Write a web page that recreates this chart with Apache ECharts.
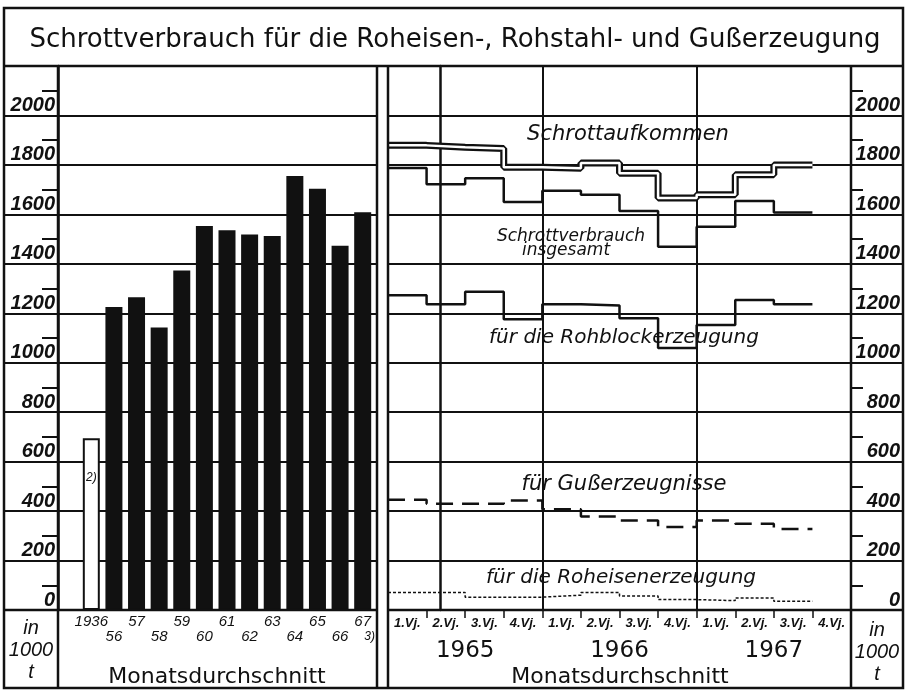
<!DOCTYPE html>
<html>
<head>
<meta charset="utf-8">
<script src="https://cdn.jsdelivr.net/npm/echarts@6/dist/echarts.min.js"></script>
<style>
html, body { margin: 0; padding: 0; background: #fff; }
#chart { width: 906px; height: 691px; }
</style>
</head>
<body>
<div id="chart"></div>
<script>
// Monatsdurchschnitt, in 1000 t
var years = ['1936', '56', '57', '58', '59', '60', '61', '62', '63', '64', '65', '66', '67'];
var verbrauchJahr = [695, 1225, 1265, 1142, 1373, 1553, 1536, 1519, 1512, 1755, 1704, 1473, 1609];

var quarters = ['1.Vj.', '2.Vj.', '3.Vj.', '4.Vj.', '1.Vj.', '2.Vj.', '3.Vj.', '4.Vj.', '1.Vj.', '2.Vj.', '3.Vj.', '4.Vj.'];
var quarterYears = ['1965', '1966', '1967'];
// 1965 1.Vj. .. 1967 3.Vj.
var aufkommen = [1879, 1871, 1866, 1791, 1786, 1808, 1766, 1666, 1679, 1760, 1800];
var verbrauchGesamt = [1787, 1722, 1746, 1650, 1695, 1679, 1614, 1469, 1550, 1654, 1608];
var rohblock = [1273, 1236, 1287, 1176, 1236, 1231, 1180, 1060, 1153, 1254, 1236];
var guss = [446, 430, 430, 443, 407, 378, 362, 336, 362, 349, 328];
var roheisen = [71, 71, 52, 52, 60, 71, 57, 42, 38, 49, 35];

var yTicks = [0, 200, 400, 600, 800, 1000, 1200, 1400, 1600, 1800, 2000];

var black = '#111';
var numFont = 'Liberation Sans';
var textFont = 'DejaVu Sans';

// each quarter value is held over its whole quarter
function stepData(vals) {
    var d = vals.map(function (v, i) { return [i, v]; });
    d.push([vals.length, vals[vals.length - 1]]);
    return d;
}

var chart = echarts.init(document.getElementById('chart'));

var yLabel = {
    customValues: yTicks,
    fontFamily: numFont, fontStyle: 'italic', fontWeight: 'bold', fontSize: 20, color: black,
    verticalAlign: 'bottom', lineHeight: 20,
    formatter: function (v) { return String(v); }
};
// the small scale marks sit just above each label
var tickMarks = yTicks.map(function (v) { return v + 100; });

function tickAxis(grid, pos, off, len) {
    return {
        gridIndex: grid, type: 'value', min: 0, max: 2200, position: pos, offset: off,
        axisLine: { show: false }, axisLabel: { show: false }, splitLine: { show: false },
        axisTick: { show: true, customValues: tickMarks, length: len, lineStyle: { color: black, width: 2 } }
    };
}
function hline(x1, y1, x2, y2, w) {
    return { type: 'line', z: 50, shape: { x1: x1, y1: y1, x2: x2, y2: y2 }, style: { stroke: black, lineWidth: w || 2.5 } };
}
function label(txt, x, y, size, italic, family) {
    return {
        type: 'text', z: 60, x: x, y: y,
        style: {
            text: txt, fill: black, textAlign: 'center', textVerticalAlign: 'middle',
            font: (italic ? 'italic ' : '') + size + 'px "' + (family || textFont) + '"',
            lineHeight: size + 2
        }
    };
}

var option = {
    animation: false,
    backgroundColor: '#fff',
    grid: [
        { left: 4, right: 529, top: 66, bottom: 81, outerBoundsMode: 'none' },
        { left: 80, right: 532, top: 66, bottom: 81, outerBoundsMode: 'none' },
        { left: 388, right: 3, top: 66, bottom: 81, outerBoundsMode: 'none' },
        { left: 388, right: 55, top: 66, bottom: 81, outerBoundsMode: 'none' }
    ],
    xAxis: [
        { gridIndex: 0, type: 'value', min: 0, max: 1, show: false },
        {
            gridIndex: 1, type: 'category', data: years,
            axisLine: { show: false }, axisTick: { show: false },
            axisLabel: {
                interval: 0, margin: 4, lineHeight: 15, color: black,
                fontFamily: numFont, fontStyle: 'italic', fontSize: 15,
                formatter: function (v, i) {
                    if (i === years.length - 1) return v + '\n{f|3)}';
                    return i % 2 === 0 ? v + '\n ' : ' \n' + v;
                },
                rich: { f: { padding: [0, 0, 0, 14], fontSize: 12, fontFamily: numFont, fontStyle: 'italic', color: black } }
            }
        },
        { gridIndex: 2, type: 'value', min: 0, max: 1, show: false },
        {
            gridIndex: 3, type: 'value', min: 0, max: 12, interval: 4,
            axisLine: { show: false }, axisTick: { show: false }, axisLabel: { show: false },
            splitLine: { show: true, lineStyle: { color: black, width: 2 } }
        },
        {
            gridIndex: 3, type: 'category', data: quarters, position: 'bottom',
            axisLine: { show: false },
            axisTick: { show: true, length: 8, lineStyle: { color: black, width: 1.5 } },
            axisLabel: {
                interval: 0, margin: 7, color: black,
                fontFamily: numFont, fontStyle: 'italic', fontWeight: 'bold', fontSize: 13
            }
        },
        {
            gridIndex: 3, type: 'category', data: quarterYears, position: 'bottom', offset: 28,
            axisLine: { show: false }, axisTick: { show: false },
            axisLabel: { interval: 0, margin: 2, color: black, fontFamily: textFont, fontSize: 23 }
        }
    ],
    yAxis: [
        {
            gridIndex: 0, type: 'value', min: 0, max: 2200, interval: 200, position: 'left', offset: -54,
            axisLine: { show: true, lineStyle: { color: black, width: 2.5 } },
            axisTick: { show: false },
            axisLabel: Object.assign({ margin: 3 }, yLabel),
            splitLine: { show: true, lineStyle: { color: black, width: 2 } }
        },
        { gridIndex: 1, type: 'value', min: 0, max: 2200, show: false },
        {
            gridIndex: 2, type: 'value', min: 0, max: 2200, interval: 200, position: 'right', offset: -52,
            axisLine: { show: true, lineStyle: { color: black, width: 2.5 } },
            axisTick: { show: false },
            axisLabel: Object.assign({ margin: 49, align: 'right' }, yLabel),
            splitLine: { show: true, lineStyle: { color: black, width: 2 } }
        },
        { gridIndex: 3, type: 'value', min: 0, max: 2200, show: false },
        tickAxis(0, 'left', -54, 16),
        tickAxis(2, 'right', -52, 12)
    ],
    series: [
        {
            type: 'bar', xAxisIndex: 1, yAxisIndex: 1, barWidth: 17,
            itemStyle: { color: black },
            data: verbrauchJahr.map(function (v, i) {
                if (i > 0) return v;
                return {
                    value: v,
                    itemStyle: { color: '#fff', borderColor: black, borderWidth: 2 },
                    label: {
                        show: true, position: 'insideTop', distance: 34, formatter: '2)',
                        color: black, fontFamily: numFont, fontStyle: 'italic', fontSize: 12
                    }
                };
            })
        },
        {
            name: 'Schrottaufkommen', type: 'line', step: 'end', xAxisIndex: 3, yAxisIndex: 3,
            showSymbol: false, data: stepData(aufkommen), z: 3,
            lineStyle: { color: black, width: 7 }
        },
        {
            name: 'Schrottaufkommen', type: 'line', step: 'end', xAxisIndex: 3, yAxisIndex: 3,
            showSymbol: false, data: stepData(aufkommen), z: 4,
            lineStyle: { color: '#fff', width: 2.5 }
        },
        {
            name: 'Schrottverbrauch insgesamt', type: 'line', step: 'end', xAxisIndex: 3, yAxisIndex: 3,
            showSymbol: false, data: stepData(verbrauchGesamt), z: 5,
            lineStyle: { color: black, width: 2.5 }
        },
        {
            name: 'für die Rohblockerzeugung', type: 'line', step: 'end', xAxisIndex: 3, yAxisIndex: 3,
            showSymbol: false, data: stepData(rohblock), z: 5,
            lineStyle: { color: black, width: 2.5 }
        },
        {
            name: 'für Gußerzeugnisse', type: 'line', step: 'end', xAxisIndex: 3, yAxisIndex: 3,
            showSymbol: false, data: stepData(guss), z: 5,
            lineStyle: { color: black, width: 2.5, type: [17, 9] }
        },
        {
            name: 'für die Roheisenerzeugung', type: 'line', step: 'end', xAxisIndex: 3, yAxisIndex: 3,
            showSymbol: false, data: stepData(roheisen), z: 5,
            lineStyle: { color: black, width: 1.5, type: [3, 2] }
        }
    ],
    graphic: [
        { type: 'rect', z: 50, shape: { x: 4, y: 8, width: 899, height: 680 }, style: { fill: null, stroke: black, lineWidth: 2.5 } },
        hline(4, 66, 903, 66),
        hline(4, 610, 377, 610), hline(388, 610, 903, 610),
        hline(58, 66, 58, 688), hline(377, 66, 377, 688), hline(388, 66, 388, 688), hline(851, 66, 851, 688),
        label('Schrottverbrauch für die Roheisen-, Rohstahl- und Gußerzeugung', 455, 40, 26, false),
        label('Monatsdurchschnitt', 217, 677, 22, false),
        label('Monatsdurchschnitt', 620, 677, 22, false),
        label('in\n1000\nt', 31, 650, 20, true, numFont),
        label('in\n1000\nt', 877, 652, 20, true, numFont),
        label('Schrottaufkommen', 628, 135, 21, true),
        label('Schrottverbrauch', 571, 237, 17, true),
        label('insgesamt', 566, 251, 17, true),
        label('für die Rohblockerzeugung', 624, 338, 20, true),
        label('für Gußerzeugnisse', 624, 485, 21, true),
        label('für die Roheisenerzeugung', 621, 578, 20, true)
    ]
};

chart.setOption(option);
</script>
</body>
</html>
